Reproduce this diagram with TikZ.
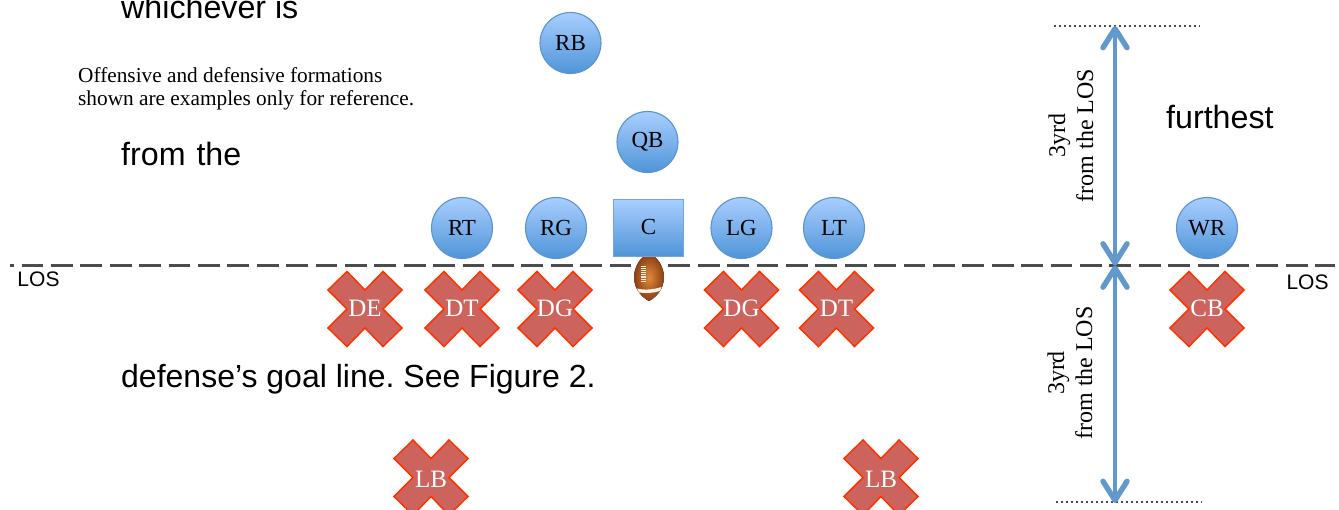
\documentclass[tikz,border=0pt]{standalone}
\usepackage{fontspec}
\setmainfont{Liberation Serif}
\setsansfont{Liberation Sans}
\usepackage{tikz}
\usetikzlibrary{arrows.meta}
\definecolor{ballblue}{HTML}{5B94D0}
\definecolor{balltop}{HTML}{A9CEFF}
\definecolor{ballbot}{HTML}{4F95D8}
\definecolor{crossred}{HTML}{CD635D}
\definecolor{crossline}{HTML}{FF3300}
\definecolor{yardblue}{HTML}{6299CD}
\definecolor{hideout}{HTML}{8A3E12}
\definecolor{hidein}{HTML}{E08A3C}
\tikzset{
  player/.style={circle, draw=ballblue, line width=1.1pt, top color=balltop, bottom color=ballbot, minimum size=61pt, inner sep=0pt, font=\fontsize{23}{23}\selectfont},
  center/.style={rectangle, draw=ballblue!70!balltop, line width=1.3pt, top color=balltop, bottom color=ballbot, minimum width=70pt, minimum height=57pt, inner sep=0pt, font=\fontsize{23}{23}\selectfont},
  rival/.style={text=white, inner sep=0pt, font=\fontsize{25}{25}\selectfont},
  bigtext/.style={font=\sffamily\frenchspacing\fontsize{32.2}{33}\selectfont, anchor=base west, inner sep=0pt},
  small/.style={font=\sffamily\fontsize{21}{21}\selectfont, inner sep=0pt},
  yard/.style={rotate=90, align=center, font=\fontsize{24}{28}\selectfont, inner sep=0pt},
  dots/.style={black!70, line width=2pt, dash pattern=on 2.2pt off 2.8pt},
  yardarrow/.style={draw=yardblue, line width=4.2pt, {Straight Barb[length=19pt,width=24pt,line width=5.4pt,round]}-{Straight Barb[length=19pt,width=24pt,line width=5.4pt,round]}}
}
% one red cross, text on top
\newcommand{\rival}[5][0]{
  \draw[fill=crossred, draw=crossline, line width=1.5pt, line join=miter] (#4,#5) ++(-18,-37) -- ++(18,18.5) -- ++(18,-18.5) -- ++(19,18.5) -- ++(-19,19) -- ++(19,19) -- ++(-19,18.5) -- ++(-18,-18.5) -- ++(-18,18.5) -- ++(-19,-18.5) -- ++(19,-19) -- ++(-19,-19) -- cycle;
  \node[rival] (#2) at (#4,#5+#1) {#3};
}
\begin{document}
\begin{tikzpicture}[x=1pt, y=-1pt]
  \useasboundingbox (0,0) rectangle (1339,510);

  % texts behind
  \node[bigtext] (T1) at (121,18.5) {whichever is};
  \node[bigtext] (T2) at (121,166) {from\hspace{2pt} the};
  \node[bigtext] (T3) at (121,388) {\fontsize{32}{33}\selectfont defense’s goal line. See Figure 2.};
  \node[bigtext] (T4) at (1166,129) {furthest};
  \node[anchor=north west, align=left, inner sep=0pt, font=\fontsize{21.3}{23}\selectfont] (N) at (78,67.5) {Offensive and defensive formations\\shown are examples only for reference.};

  % line of scrimmage
  \coordinate (L) at (10,265.5);
  \coordinate (R) at (1335,265.5);
  \draw[draw=black!70, line width=2.6pt, dash pattern=on 21.8pt off 7.6pt, dash phase=17.8pt] (L) -- (R);
  \node[small] (LOS1) at (38.5,279) {LOS};
  \node[small] (LOS2) at (1307.5,282) {LOS};

  % football
  \fill[inner color=hidein, outer color=hideout] (649,254) .. controls (658,256) and (664,268) .. (664,277) .. controls (664,290) and (655,298) .. (649,301) .. controls (643,298) and (634,290) .. (634,277) .. controls (634,268) and (640,256) .. (649,254) -- cycle;
  \fill[white!92!orange] (637,288.5) .. controls (645,290.5) and (654,289.5) .. (661.5,287) -- (660,291) .. controls (654,293) and (645,293.5) .. (639,292.5) -- cycle;
  \draw[white!85!brown, line width=4.6pt, dash pattern=on 1.1pt off 1pt] (643.5,266) -- (643.5,282);

  % offence
  \node[player] (RB) at (570.5,43) {RB};
  \node[player] (QB) at (647.5,142) {QB};
  \node[player] (RT) at (462,228) {RT};
  \node[player] (RG) at (556,228) {\raisebox{-2pt}{RG}};
  \node[center] (C) at (648.5,228) {\raisebox{2pt}{C}};
  \node[player] (LG) at (741.5,228) {LG};
  \node[player] (LT) at (834,228) {LT};
  \node[player] (WR) at (1207,228) {WR};

  % defence
  \rival{DE}{DE}{365}{308.5}
  \rival{DTa}{DT}{462}{308.5}
  \rival{DGa}{DG}{555}{308.5}
  \rival{DGb}{DG}{741.5}{308.5}
  \rival{DTb}{DT}{836.5}{308.5}
  \rival{CB}{CB}{1207}{308.5}
  \rival[2.5]{LBa}{LB}{431}{477}
  \rival[2.5]{LBb}{LB}{881}{477}

  % yard marks
  \coordinate (Top) at (1054,26);
  \coordinate (TopR) at (1200,26);
  \coordinate (Bot) at (1056,502);
  \coordinate (BotR) at (1202,502);
  \coordinate (ArrT) at (1115,26);
  \coordinate (ArrM) at (1115,265.5);
  \coordinate (ArrB) at (1115,503);
  \draw[dots] (Top) -- (TopR);
  \draw[dots] (Bot) -- (BotR);
  \draw[yardarrow] (ArrT) -- (ArrM);
  \draw[yardarrow] (ArrM) -- (ArrB);
  \node[yard] (Y1) at (1071,135.5) {3yrd\\from the LOS};
  \node[yard] (Y2) at (1070,373) {3yrd\\from the LOS};
\end{tikzpicture}
\end{document}
